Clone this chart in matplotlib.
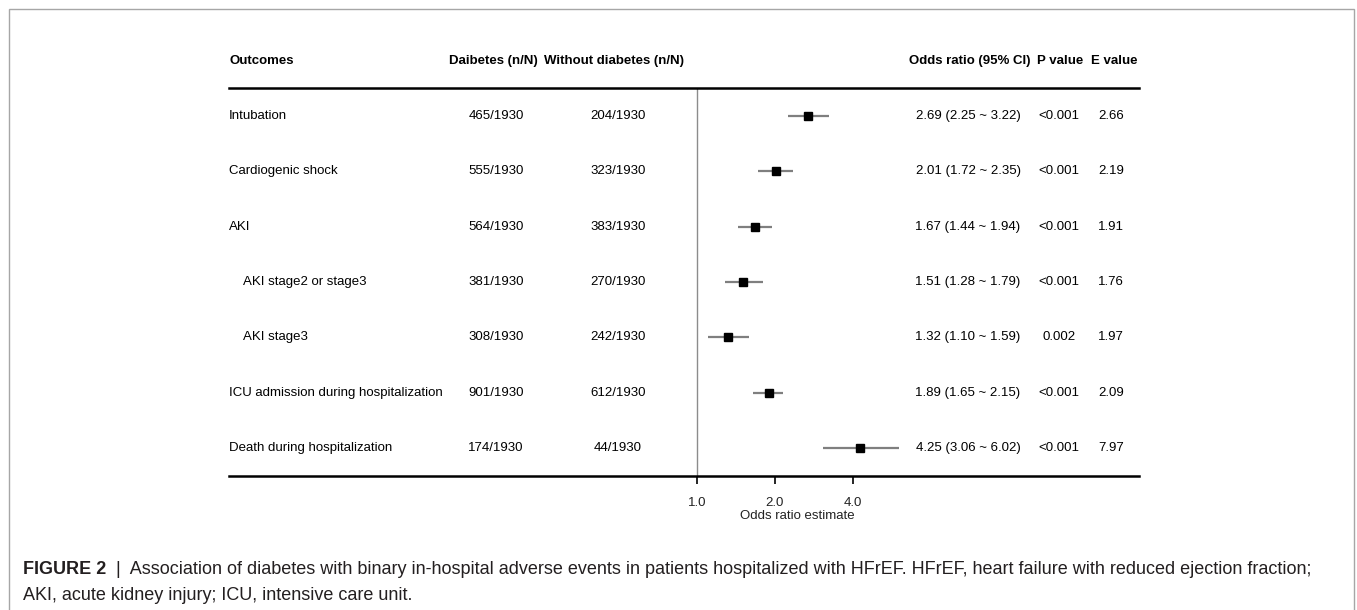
import numpy as np
import matplotlib.pyplot as plt
from matplotlib.patches import Rectangle
from matplotlib.transforms import blended_transform_factory

plt.rcParams['font.family'] = ['Liberation Sans', 'DejaVu Sans']

# table data
outcomes = ['Intubation', 'Cardiogenic shock', 'AKI', 'AKI stage2 or stage3',
            'AKI stage3', 'ICU admission during hospitalization',
            'Death during hospitalization']
indented = [False, False, False, True, True, False, False]
diab = ['465/1930', '555/1930', '564/1930', '381/1930', '308/1930', '901/1930', '174/1930']
nodiab = ['204/1930', '323/1930', '383/1930', '270/1930', '242/1930', '612/1930', '44/1930']
odds = [2.69, 2.01, 1.67, 1.51, 1.32, 1.89, 4.25]
lower = [2.25, 1.72, 1.44, 1.28, 1.10, 1.65, 3.06]
upper = [3.22, 2.35, 1.94, 1.79, 1.59, 2.15, 6.02]
pvals = ['<0.001', '<0.001', '<0.001', '<0.001', '0.002', '<0.001', '<0.001']
evals = ['2.66', '2.19', '1.91', '1.76', '1.97', '2.09', '7.97']
xticks = [1.0, 2.0, 4.0]

W, H = 1357, 610
fig = plt.figure(figsize=(W / 100, H / 100), dpi=100)

# axes box in pixels: table spans 229..1139, lines at y=88 and y=476
left, right, top, bottom = 229, 1139, 88, 476
ax = fig.add_axes([left / W, 1 - bottom / H, (right - left) / W, (bottom - top) / H])
ax.set_xscale('log', base=2)
x1, ppd = 697, 78  # pixel of OR=1, pixels per doubling
ax.set_xlim(2 ** ((left - x1) / ppd), 2 ** ((right - x1) / ppd))
ax.set_ylim(7.5, 0.5)

rows = np.arange(1, len(outcomes) + 1)
ax.axvline(1, color='#8c8c8c', lw=1)
ax.hlines(rows, lower, upper, color='#7f7f7f', lw=1.6, zorder=2)
ax.plot(odds, rows, 's', color='black', ms=6, zorder=3)

for s in ['left', 'right']:
    ax.spines[s].set_visible(False)
for s in ['top', 'bottom']:
    ax.spines[s].set_linewidth(1.8)
ax.set_yticks([])
ax.set_xticks(xticks)
ax.set_xticklabels(['%.1f' % t for t in xticks], fontsize=9.5, color='#222222')
ax.minorticks_off()
ax.tick_params(axis='x', length=6, width=1.2, pad=9)
ax.set_xlabel('Odds ratio estimate', fontsize=9.5, color='#222222')
ax.xaxis.set_label_coords((797 - left) / (right - left), -(510 - bottom) / (bottom - top))

tr = blended_transform_factory(fig.transFigure, ax.transData)
fs = 9.5
hy = 0.01
heads = [('Daibetes (n/N)', 493), ('Without diabetes (n/N)', 614),
         ('Odds ratio (95% CI)', 970), ('P value', 1060), ('E value', 1114)]
ax.text(left / W, hy, 'Outcomes', transform=tr, ha='left', va='center', fontsize=fs, fontweight='bold')
for h, px in heads:
    ax.text(px / W, hy, h, transform=tr, ha='center', va='center', fontsize=fs, fontweight='bold')

for i, r in enumerate(rows):
    xl = 243 if indented[i] else left
    ax.text(xl / W, r, outcomes[i], transform=tr, ha='left', va='center', fontsize=fs)
    ax.text(496 / W, r, diab[i], transform=tr, ha='center', va='center', fontsize=fs)
    ax.text(618 / W, r, nodiab[i], transform=tr, ha='center', va='center', fontsize=fs)
    ci = '%.2f (%.2f ~ %.2f)' % (odds[i], lower[i], upper[i])
    ax.text(968 / W, r, ci, transform=tr, ha='center', va='center', fontsize=fs)
    ax.text(1059 / W, r, pvals[i], transform=tr, ha='center', va='center', fontsize=fs)
    ax.text(1111 / W, r, evals[i], transform=tr, ha='center', va='center', fontsize=fs)

# outer frame
fig.add_artist(Rectangle((9 / W, -0.05), (1354 - 9) / W, 1.05 - 9 / H, transform=fig.transFigure,
                         fill=False, edgecolor='#a6a6a6', lw=1))

# caption
cap = 13
t1 = fig.text(23 / W, 1 - 569 / H, 'FIGURE 2', fontsize=cap, fontweight='bold',
              color='#231f20', va='center')
ax.annotate('  |  Association of diabetes with binary in-hospital adverse events in patients hospitalized '
            'with HFrEF. HFrEF, heart failure with reduced ejection fraction;',
            xy=(1, 0.5), xycoords=t1, va='center', fontsize=cap, color='#231f20',
            annotation_clip=False)
fig.text(23 / W, 1 - 595 / H, 'AKI, acute kidney injury; ICU, intensive care unit.',
         fontsize=cap, color='#231f20', va='center')

fig.savefig('out.png', dpi=100)
